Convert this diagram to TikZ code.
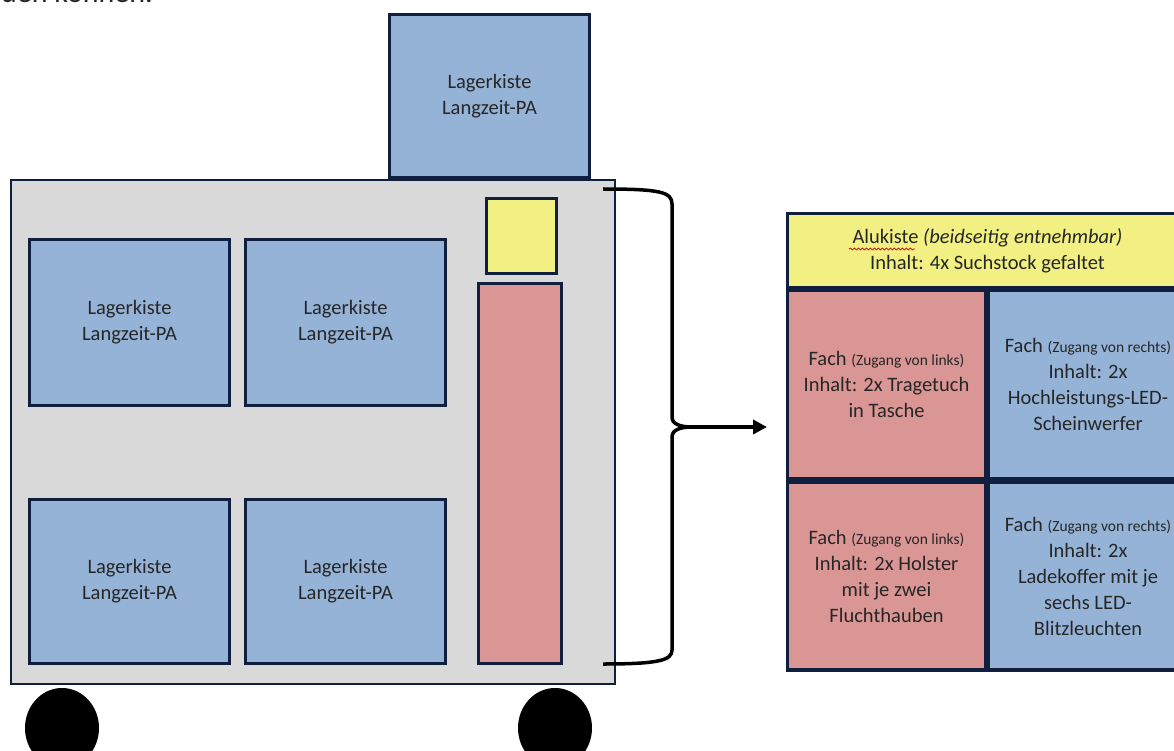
\documentclass[tikz,border=0pt]{standalone}
\usepackage{fontspec}
\setmainfont{Carlito}
\usetikzlibrary{arrows.meta,decorations.pathmorphing}

\definecolor{rahmen}{HTML}{0F1F3D}
\definecolor{blau}{HTML}{95B3D7}
\definecolor{rosa}{HTML}{DA9694}
\definecolor{gelb}{HTML}{F2F082}
\definecolor{wagen}{HTML}{D9D9D9}
\newcommand\grossschrift{\fontsize{20.5}{26}\selectfont}
\newcommand\kleinschrift{\fontsize{15.5}{18}\selectfont}

\begin{document}
\begin{tikzpicture}[x=1pt, y=-1pt,
  kiste/.style={draw=rahmen, line width=3.5pt, fill=blau, inner sep=0pt,
    align=center, font=\grossschrift, text=black!85},
  fach/.style={kiste, fill=rosa},
  alu/.style={kiste, fill=gelb}]
\useasboundingbox (0, 0) rectangle (1174, 751);
\clip (0, 0) rectangle (1174, 751);

% Text oben, abgeschnitten
\node[anchor=base west, font=\fontsize{30}{36}\selectfont, text=black!85, inner sep=0pt] (satz) at (1, 3) {den können.};

% Raeder
\fill (62, 728) ellipse [x radius=37pt, y radius=40pt];
\fill (555, 728) ellipse [x radius=37pt, y radius=40pt];

% Wagen
\node[draw=rahmen, line width=2pt, fill=wagen, minimum width=604pt, minimum height=504pt] (wagen) at (313, 432) {};
\node[kiste, minimum width=200pt, minimum height=163pt] (oben) at (489.5, 96) {Lagerkiste\\Langzeit-PA};
\node[kiste, minimum width=200pt, minimum height=166pt] (k1) at (129.5, 322.5) {Lagerkiste\\Langzeit-PA};
\node[kiste, minimum width=200pt, minimum height=166pt] (k2) at (345.5, 322.5) {Lagerkiste\\Langzeit-PA};
\node[kiste, minimum width=200pt, minimum height=164pt] (k3) at (129.5, 581.5) {Lagerkiste\\Langzeit-PA};
\node[kiste, minimum width=200pt, minimum height=164pt] (k4) at (345.5, 581.5) {Lagerkiste\\Langzeit-PA};
\node[alu, minimum width=70pt, minimum height=75pt] (alukiste) at (521.5, 236) {};
\node[fach, minimum width=83pt, minimum height=380pt] (faecher) at (520, 473.5) {};

% Klammer mit Pfeil
\coordinate (spitze) at (692, 427);
\coordinate (ziel) at (767, 427);
\draw[line width=3.5pt] (603, 189) .. controls (660, 189) and (672, 192) .. (672, 204)
  -- (672, 417) .. controls (672, 424) and (680, 427) .. (spitze)
  .. controls (680, 427) and (672, 430) .. (672, 437)
  -- (672, 650) .. controls (672, 660) and (660, 664) .. (603, 664);
\draw[line width=3.5pt, -{Triangle[length=14pt, width=14pt]}] (spitze) -- (ziel);

% Querschnitt Alukiste
\node[alu, minimum width=400pt, minimum height=74pt] (kopf) at (987.5, 250.5)
  {Alukiste \textit{(beidseitig entnehmbar)}\\Inhalt: 4x Suchstock gefaltet};
\draw[red!80!black, line width=0.7pt, decorate, decoration={snake, segment length=4pt, amplitude=1pt}]
  (849, 249) -- (915, 249);
\node[fach, minimum width=198pt, minimum height=188pt] (links1) at (886.5, 384.5)
  {Fach {\kleinschrift(Zugang von links)}\\Inhalt: 2x Tragetuch\\in Tasche};
\node[kiste, minimum width=199pt, minimum height=188pt] (rechts1) at (1088, 384.5)
  {Fach {\kleinschrift(Zugang von rechts)}\\Inhalt: 2x\\Hochleistungs-LED-\\Scheinwerfer};
\node[fach, minimum width=198pt, minimum height=188pt] (links2) at (886.5, 576)
  {Fach {\kleinschrift(Zugang von links)}\\Inhalt: 2x Holster\\mit je zwei\\Fluchthauben};
\node[kiste, minimum width=199pt, minimum height=188pt] (rechts2) at (1088, 576)
  {Fach {\kleinschrift(Zugang von rechts)}\\Inhalt: 2x\\Ladekoffer mit je\\sechs LED-\\Blitzleuchten};

\end{tikzpicture}
\end{document}
